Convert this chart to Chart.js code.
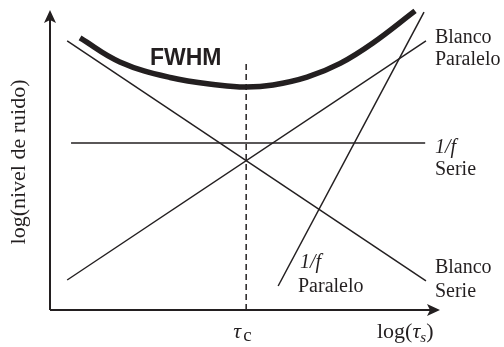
<!DOCTYPE html>
<html>
<head>
<meta charset="utf-8">
<script src="https://cdn.jsdelivr.net/npm/chart.js@4/dist/chart.umd.min.js"></script>
<style>
  html, body { margin: 0; padding: 0; background: #fff; }
  #grafico { display: block; }
</style>
</head>
<body>
<canvas id="grafico" width="504" height="347"></canvas>
<script>
// ── DATOS (unidades logarítmicas arbitrarias, 0..10) ──
const blancoSerie = [{ x: 0.44, y: 8.97 }, { x: 9.64, y: 0.97 }]
const blancoParalelo = [{ x: 0.44, y: 1.0 }, { x: 9.64, y: 8.97 }]
const unoFSerie = [{ x: 0.54, y: 5.57 }, { x: 9.62, y: 5.57 }]
const unoFParalelo = [{ x: 5.85, y: 0.8 }, { x: 9.59, y: 9.93 }]
const tauC = 5.03
const lineaTauC = [{ x: tauC, y: 0 }, { x: tauC, y: 8.27 }]
const fwhmX = [0.77, 1.79, 3.08, 4.36, 5.03, 5.72, 6.59, 7.44, 8.28, 9.36]
const fwhmY = [9.07, 8.27, 7.75, 7.49, 7.43, 7.5, 7.76, 8.22, 8.9, 9.97]

const NEGRO = '#231f20'
const SERIF = '"Liberation Serif", "Times New Roman", serif'

function recta(datos, ancho = 1.5) {
  return {
    data: datos,
    showLine: true,
    borderColor: NEGRO,
    borderWidth: ancho,
    pointRadius: 0,
    tension: 0,
    clip: false
  }
}

// Ejes con flecha y rótulos
const ejesYTextos = {
  id: 'ejesYTextos',
  afterDraw(chart) {
    const ctx = chart.ctx
    const { left, right, top, bottom } = chart.chartArea
    const sx = chart.scales.x

    ctx.save()
    ctx.strokeStyle = NEGRO
    ctx.fillStyle = NEGRO
    ctx.lineWidth = 2
    ctx.beginPath()
    ctx.moveTo(left, bottom)
    ctx.lineTo(left, top + 8)
    ctx.moveTo(left, bottom)
    ctx.lineTo(right - 8, bottom)
    ctx.stroke()

    // punta vertical
    ctx.beginPath()
    ctx.moveTo(left, top)
    ctx.lineTo(left + 6, top + 13)
    ctx.lineTo(left, top + 10)
    ctx.lineTo(left - 6, top + 13)
    ctx.closePath()
    ctx.fill()
    // punta horizontal
    ctx.beginPath()
    ctx.moveTo(right, bottom)
    ctx.lineTo(right - 13, bottom - 6)
    ctx.lineTo(right - 10, bottom)
    ctx.lineTo(right - 13, bottom + 6)
    ctx.closePath()
    ctx.fill()

    // eje Y
    ctx.save()
    ctx.translate(25, 162)
    ctx.rotate(-Math.PI / 2)
    ctx.font = '22px ' + SERIF
    ctx.textAlign = 'center'
    ctx.textBaseline = 'alphabetic'
    ctx.fillText('log(nivel de ruido)', 0, 0)
    ctx.restore()

    // FWHM
    ctx.font = 'bold 23px "Liberation Sans", Arial, sans-serif'
    ctx.textAlign = 'left'
    ctx.fillText('FWHM', 150, 65)

    // etiquetas de las rectas
    const xt = sx.getPixelForValue(9.64) + 9
    ctx.font = '20px ' + SERIF
    ctx.fillText('Blanco', xt, 43)
    ctx.fillText('Paralelo', xt, 65)
    ctx.fillText('Serie', xt, 175)
    ctx.fillText('Blanco', xt, 273)
    ctx.fillText('Serie', xt, 297)
    ctx.fillText('Paralelo', 298, 292)
    ctx.font = 'italic 20px ' + SERIF
    ctx.fillText('1/f', xt, 153)
    ctx.fillText('1/f', 300, 268)

    // eje X: τc y log(τs)
    const xc = sx.getPixelForValue(tauC)
    ctx.font = 'italic 22px ' + SERIF
    ctx.fillText('τ', xc - 13, 338)
    ctx.font = '19px ' + SERIF
    ctx.fillText('c', xc - 3, 341)

    let x = 377
    ctx.font = '22px ' + SERIF
    ctx.fillText('log(', x, 338)
    x += ctx.measureText('log(').width
    ctx.font = 'italic 22px ' + SERIF
    ctx.fillText('τ', x, 338)
    x += ctx.measureText('τ').width
    ctx.font = 'italic 15px ' + SERIF
    ctx.fillText('s', x, 342)
    x += ctx.measureText('s').width
    ctx.font = '22px ' + SERIF
    ctx.fillText(')', x, 338)
    ctx.restore()
  }
}

new Chart(document.getElementById('grafico'), {
  type: 'scatter',
  data: {
    datasets: [
      recta(blancoSerie),
      recta(blancoParalelo),
      recta(unoFSerie),
      recta(unoFParalelo),
      Object.assign(recta(lineaTauC), { borderDash: [6, 4] }),
      {
        data: fwhmX.map((x, i) => ({ x, y: fwhmY[i] })),
        showLine: true,
        borderColor: NEGRO,
        borderWidth: 5.5,
        borderCapStyle: 'butt',
        pointRadius: 0,
        tension: 0.4,
        clip: false
      }
    ]
  },
  options: {
    responsive: false,
    animation: false,
    layout: { padding: { left: 50, right: 64, top: 10, bottom: 37 } },
    plugins: { legend: { display: false }, tooltip: { enabled: false } },
    scales: {
      x: { type: 'linear', min: 0, max: 10, display: false },
      y: { type: 'linear', min: 0, max: 10, display: false }
    }
  },
  plugins: [ejesYTextos]
})
</script>
</body>
</html>
